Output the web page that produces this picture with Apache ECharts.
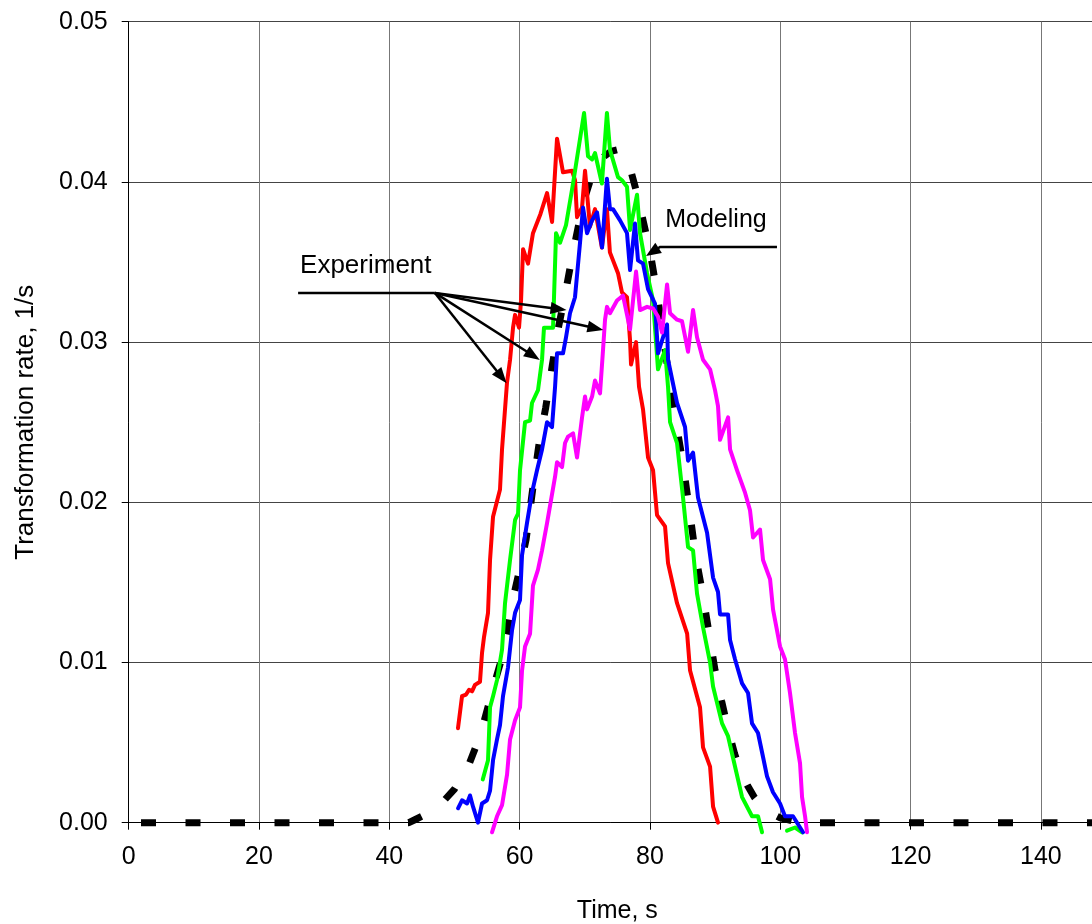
<!DOCTYPE html>
<html>
<head>
<meta charset="utf-8">
<script src="https://cdn.jsdelivr.net/npm/echarts@6/dist/echarts.min.js"></script>
<style>
html, body { margin: 0; padding: 0; background: #ffffff; }
#chart { width: 1092px; height: 924px; }
</style>
</head>
<body>
<div id="chart"></div>
<script>
// Transformation rate vs time: 4 experiments + modeling curve

// Axis settings
const xTicks = [0, 20, 40, 60, 80, 100, 120, 140];
const yTicks = [0.00, 0.01, 0.02, 0.03, 0.04, 0.05];

// Experiment curves [time s, rate 1/s]
const redData = [
    [50.54, 0.0059], [51.16, 0.0079], [51.78, 0.0080], [52.24, 0.0083], [52.70, 0.0082],
    [53.15, 0.0086], [53.92, 0.0088], [54.23, 0.0106], [54.54, 0.0116], [55.15, 0.0131],
    [55.46, 0.0164], [55.92, 0.0191], [56.99, 0.0208], [57.30, 0.0233], [58.07, 0.0275],
    [58.53, 0.0289], [58.99, 0.0309], [59.30, 0.0317], [59.91, 0.0309], [60.22, 0.0326],
    [60.53, 0.0358], [61.29, 0.0349], [62.05, 0.0368], [63.20, 0.0380], [64.21, 0.0393],
    [64.98, 0.0375], [65.74, 0.0427], [66.66, 0.0406], [68.05, 0.0407], [68.51, 0.0401],
    [68.81, 0.0378], [69.58, 0.0384], [70.04, 0.0407], [70.80, 0.0372], [71.57, 0.0383],
    [72.63, 0.0359], [73.40, 0.0383], [73.86, 0.0356], [75.10, 0.0343], [75.71, 0.0331],
    [76.48, 0.0328], [76.95, 0.0301], [77.10, 0.0286], [77.87, 0.0300], [78.33, 0.0272],
    [78.94, 0.0258], [79.71, 0.0228], [80.48, 0.0220], [81.09, 0.0192], [82.32, 0.0185],
    [82.78, 0.0162], [84.16, 0.0137], [85.71, 0.0118], [86.16, 0.0095], [87.69, 0.0072],
    [88.15, 0.0047], [89.23, 0.0035], [89.69, 0.0010], [90.45, 0.0000]
];

const greenData = [
    [54.34, 0.0027], [55.15, 0.0039], [55.46, 0.0072], [55.92, 0.0079], [56.53, 0.0089],
    [57.30, 0.0108], [57.76, 0.0137], [58.53, 0.0164], [59.30, 0.0189], [59.76, 0.0193],
    [60.06, 0.0220], [60.83, 0.0250], [61.60, 0.0251], [61.90, 0.0262], [62.82, 0.0270],
    [63.44, 0.0289], [63.74, 0.0309], [65.13, 0.0309], [65.59, 0.0368], [66.20, 0.0362],
    [67.12, 0.0373], [68.20, 0.0399], [69.89, 0.0443], [70.50, 0.0416], [71.12, 0.0414],
    [71.57, 0.0418], [72.63, 0.0399], [73.40, 0.0443], [73.87, 0.0420], [75.10, 0.0403],
    [75.71, 0.0401], [76.48, 0.0397], [76.95, 0.0370], [78.02, 0.0392], [78.48, 0.0368],
    [79.56, 0.0343], [80.48, 0.0326], [81.24, 0.0283], [82.32, 0.0295], [82.78, 0.0272],
    [83.09, 0.0250], [84.16, 0.0237], [85.08, 0.0203], [85.85, 0.0172], [86.62, 0.0170],
    [87.23, 0.0143], [88.15, 0.0122], [89.23, 0.0100], [89.69, 0.0085], [91.07, 0.0062],
    [91.99, 0.0054], [94.14, 0.0016], [95.67, 0.0004], [96.59, 0.0004], [97.21, -0.0006],
    null,
    [101.04, -0.0005], [102.27, -0.0003], [103.35, -0.0006]
];

const blueData = [
    [50.55, 0.0009], [51.16, 0.0014], [51.93, 0.0012], [52.39, 0.0017], [52.85, 0.0010],
    [53.61, 0.0000], [54.23, 0.0012], [55.00, 0.0014], [55.46, 0.0020], [55.92, 0.0039],
    [56.53, 0.0052], [56.99, 0.0061], [57.45, 0.0079], [58.22, 0.0097], [58.83, 0.0120],
    [59.30, 0.0131], [60.06, 0.0139], [60.37, 0.0167], [61.13, 0.0187], [61.90, 0.0206],
    [62.67, 0.0220], [63.44, 0.0233], [64.21, 0.0250], [64.97, 0.0247], [65.44, 0.0272],
    [65.74, 0.0293], [66.66, 0.0293], [67.12, 0.0303], [67.73, 0.0318], [68.50, 0.0328],
    [69.27, 0.0362], [69.73, 0.0384], [70.35, 0.0368], [71.12, 0.0376], [71.88, 0.0381],
    [72.65, 0.0359], [73.40, 0.0402], [73.87, 0.0383], [74.33, 0.0383], [75.41, 0.0376],
    [76.48, 0.0368], [76.95, 0.0345], [77.71, 0.0374], [78.17, 0.0351], [78.94, 0.0349],
    [79.71, 0.0333], [80.78, 0.0324], [81.24, 0.0293], [82.63, 0.0311], [82.78, 0.0289],
    [84.16, 0.0262], [85.39, 0.0247], [85.85, 0.0226], [86.62, 0.0231], [87.38, 0.0203],
    [88.77, 0.0181], [89.69, 0.0153], [90.45, 0.0144], [90.76, 0.0130], [91.99, 0.0130],
    [92.30, 0.0114], [93.06, 0.0102], [94.14, 0.0087], [95.06, 0.0081], [95.67, 0.0062],
    [96.59, 0.0056], [97.36, 0.0041], [97.97, 0.0029], [98.89, 0.0019], [99.97, 0.0012],
    [100.73, 0.0004], [101.96, 0.0004], [103.04, -0.0003], [103.50, -0.0006]
];

const magentaData = [
    [55.76, -0.0006], [56.53, 0.0004], [57.30, 0.0011], [58.07, 0.0030], [58.53, 0.0052],
    [59.30, 0.0064], [60.06, 0.0072], [60.37, 0.0095], [60.83, 0.0110], [61.60, 0.0118],
    [62.05, 0.0148], [62.82, 0.0158], [63.44, 0.0170], [64.21, 0.0187], [65.44, 0.0216],
    [65.74, 0.0225], [66.51, 0.0222], [66.97, 0.0237], [67.43, 0.0241], [68.20, 0.0243],
    [68.81, 0.0228], [69.58, 0.0253], [70.04, 0.0266], [70.35, 0.0258], [71.12, 0.0266],
    [71.57, 0.0276], [72.34, 0.0268], [72.80, 0.0295], [73.11, 0.0314], [73.41, 0.0322],
    [73.87, 0.0318], [74.95, 0.0326], [75.87, 0.0329], [76.95, 0.0308], [77.87, 0.0344],
    [78.48, 0.0320], [79.56, 0.0322], [80.48, 0.0321], [81.24, 0.0316], [81.86, 0.0306],
    [82.63, 0.0336], [83.09, 0.0318], [84.16, 0.0314], [84.93, 0.0313], [85.85, 0.0294],
    [86.62, 0.0320], [87.23, 0.0303], [88.15, 0.0289], [89.23, 0.0283], [89.99, 0.0270],
    [90.45, 0.0260], [90.76, 0.0239], [92.00, 0.0253], [92.30, 0.0233], [93.37, 0.0220],
    [94.60, 0.0206], [95.36, 0.0195], [95.83, 0.0178], [96.90, 0.0183], [97.36, 0.0164],
    [98.44, 0.0152], [98.90, 0.0133], [99.97, 0.0110], [100.73, 0.0102], [101.50, 0.0081],
    [102.27, 0.0056], [103.04, 0.0037], [103.35, 0.0016], [103.81, 0.0004], [104.11, -0.0006]
];

// Modeling curve (rising/falling part plus the flat tail after it)
const modelData = [
    [0, 0], [43, 0], [44, 0.0002], [46, 0.0006], [48, 0.0012], [50, 0.0021], [52, 0.0034],
    [54, 0.0055], [56, 0.0085], [57, 0.0099], [58, 0.0118], [59, 0.0140], [60, 0.0158],
    [61, 0.0177], [62, 0.0208], [63, 0.0237], [64, 0.0259], [65, 0.0285], [66, 0.0310],
    [67, 0.0330], [68, 0.0352], [69, 0.0372], [70, 0.0390], [71, 0.0403], [72, 0.0411],
    [73, 0.0416], [74, 0.0419], [75, 0.0420], [76, 0.0417], [77, 0.0408], [78, 0.0393],
    [79, 0.0375], [80, 0.0357], [81, 0.0333], [82, 0.0305], [83, 0.0276], [84, 0.0250],
    [85, 0.0226], [86, 0.0197], [87, 0.0167], [88, 0.0145], [89, 0.0120], [90, 0.0095],
    [91, 0.0076], [92, 0.0058], [93, 0.0043], [94, 0.0031], [95, 0.0023], [96, 0.0016],
    [97, 0.0011], [98, 0.0007], [99, 0.0005], [100, 0.0003], [102, 0.0001], [104, 0]
];
const modelTail = [[104, 0], [150, 0]];

// Annotations (data coordinates)
const expLabel = { text: 'Experiment', at: [26.3, 0.03475] };
const expLine = [[26.0, 0.03307], [47.0, 0.03307]];
const expTargets = [[58.0, 0.02743], [63.1, 0.02889], [67.2, 0.0320], [72.85, 0.03076]];
const modLabel = { text: 'Modeling', at: [82.35, 0.03762] };
const modLine = [[99.5, 0.03594], [81.55, 0.03594], [79.4, 0.03537]];

const FONT = "'Liberation Sans', Arial, sans-serif";

function expSeries(name, color, data) {
    return {
        name: name,
        type: 'line',
        data: data,
        showSymbol: false,
        clip: false,
        connectNulls: false,
        lineStyle: { color: color, width: 4, join: 'round', cap: 'round' },
        z: 3
    };
}

function modelSeries(name, data, offset) {
    return {
        name: name,
        type: 'line',
        data: data,
        showSymbol: false,
        clip: false,
        lineStyle: { color: '#000', width: 7, type: [15, 29.5], dashOffset: offset, cap: 'butt' },
        z: 2
    };
}

const chart = echarts.init(document.getElementById('chart'));

const option = {
    backgroundColor: '#ffffff',
    animation: false,
    grid: { left: 128.7, top: 21.7, width: 977.3, height: 801, outerBoundsMode: 'none', containLabel: false },
    xAxis: {
        type: 'value',
        min: 0,
        max: 150,
        interval: 20,
        name: 'Time, s',
        nameLocation: 'middle',
        nameGap: 76,
        nameTextStyle: { color: '#000', fontSize: 25, fontFamily: FONT },
        axisLine: { onZero: false, lineStyle: { color: '#000', width: 1 } },
        axisTick: { show: true, length: 7, lineStyle: { color: '#000' } },
        axisLabel: {
            color: '#000', fontSize: 25, fontFamily: FONT, margin: 22,
            formatter: function (v) { return xTicks.indexOf(v) >= 0 ? String(v) : ''; }
        },
        splitLine: { show: true, lineStyle: { color: '#777', width: 1 } }
    },
    yAxis: {
        type: 'value',
        min: 0,
        max: 0.05,
        interval: 0.01,
        name: 'Transformation rate, 1/s',
        nameLocation: 'middle',
        nameGap: 90,
        nameTextStyle: { color: '#000', fontSize: 26, fontFamily: FONT },
        axisLine: { show: true, lineStyle: { color: '#000', width: 1 } },
        axisTick: { show: true, length: 7, lineStyle: { color: '#000' } },
        axisLabel: {
            color: '#000', fontSize: 25, fontFamily: FONT, margin: 21,
            formatter: function (v) { return v.toFixed(2); }
        },
        splitLine: { show: true, lineStyle: { color: '#444', width: 1 } }
    },
    series: [
        modelSeries('Modeling', modelData, 32.2),
        modelSeries('Modeling tail', modelTail, 30.8),
        expSeries('Exp 1', '#ff0000', redData),
        expSeries('Exp 2', '#00ff00', greenData),
        expSeries('Exp 3', '#0000ff', blueData),
        expSeries('Exp 4', '#ff00ff', magentaData)
    ]
};
chart.setOption(option);

// Annotation graphics placed through the grid's own coordinate conversion
function px(p) { return chart.convertToPixel({ gridIndex: 0 }, p); }

function arrowHead(tip, from, len, half) {
    const dx = tip[0] - from[0], dy = tip[1] - from[1];
    const d = Math.sqrt(dx * dx + dy * dy);
    const ux = dx / d, uy = dy / d;
    const bx = tip[0] - ux * len, by = tip[1] - uy * len;
    return {
        type: 'polygon',
        shape: { points: [tip, [bx - uy * half, by + ux * half], [bx + uy * half, by - ux * half]] },
        style: { fill: '#000' },
        z: 10
    };
}

function shortLine(a, b, cut) {
    const dx = b[0] - a[0], dy = b[1] - a[1];
    const d = Math.sqrt(dx * dx + dy * dy);
    return [a, [b[0] - dx / d * cut, b[1] - dy / d * cut]];
}

const graphics = [];
const junction = px(expLine[1]);
graphics.push({
    type: 'polyline',
    shape: { points: [px(expLine[0]), junction] },
    style: { stroke: '#000', lineWidth: 2.5, fill: null },
    z: 10
});
expTargets.forEach(function (t) {
    const tip = px(t);
    graphics.push({
        type: 'polyline',
        shape: { points: shortLine(junction, tip, 10) },
        style: { stroke: '#000', lineWidth: 2.5, fill: null },
        z: 10
    });
    graphics.push(arrowHead(tip, junction, 16, 6));
});
const expPos = px(expLabel.at);
graphics.push({
    type: 'text', x: expPos[0], y: expPos[1],
    style: { text: expLabel.text, fill: '#000', fontSize: 26, fontFamily: FONT, verticalAlign: 'middle', align: 'left' },
    z: 10
});

const mPts = modLine.map(px);
graphics.push({
    type: 'polyline',
    shape: { points: [mPts[0], mPts[1]].concat([shortLine(mPts[1], mPts[2], 8)[1]]) },
    style: { stroke: '#000', lineWidth: 2.5, fill: null },
    z: 10
});
graphics.push(arrowHead(mPts[2], mPts[1], 15, 6));
const modPos = px(modLabel.at);
graphics.push({
    type: 'text', x: modPos[0], y: modPos[1],
    style: { text: modLabel.text, fill: '#000', fontSize: 25, fontFamily: FONT, verticalAlign: 'middle', align: 'left' },
    z: 10
});

chart.setOption({ graphic: graphics });
</script>
</body>
</html>
